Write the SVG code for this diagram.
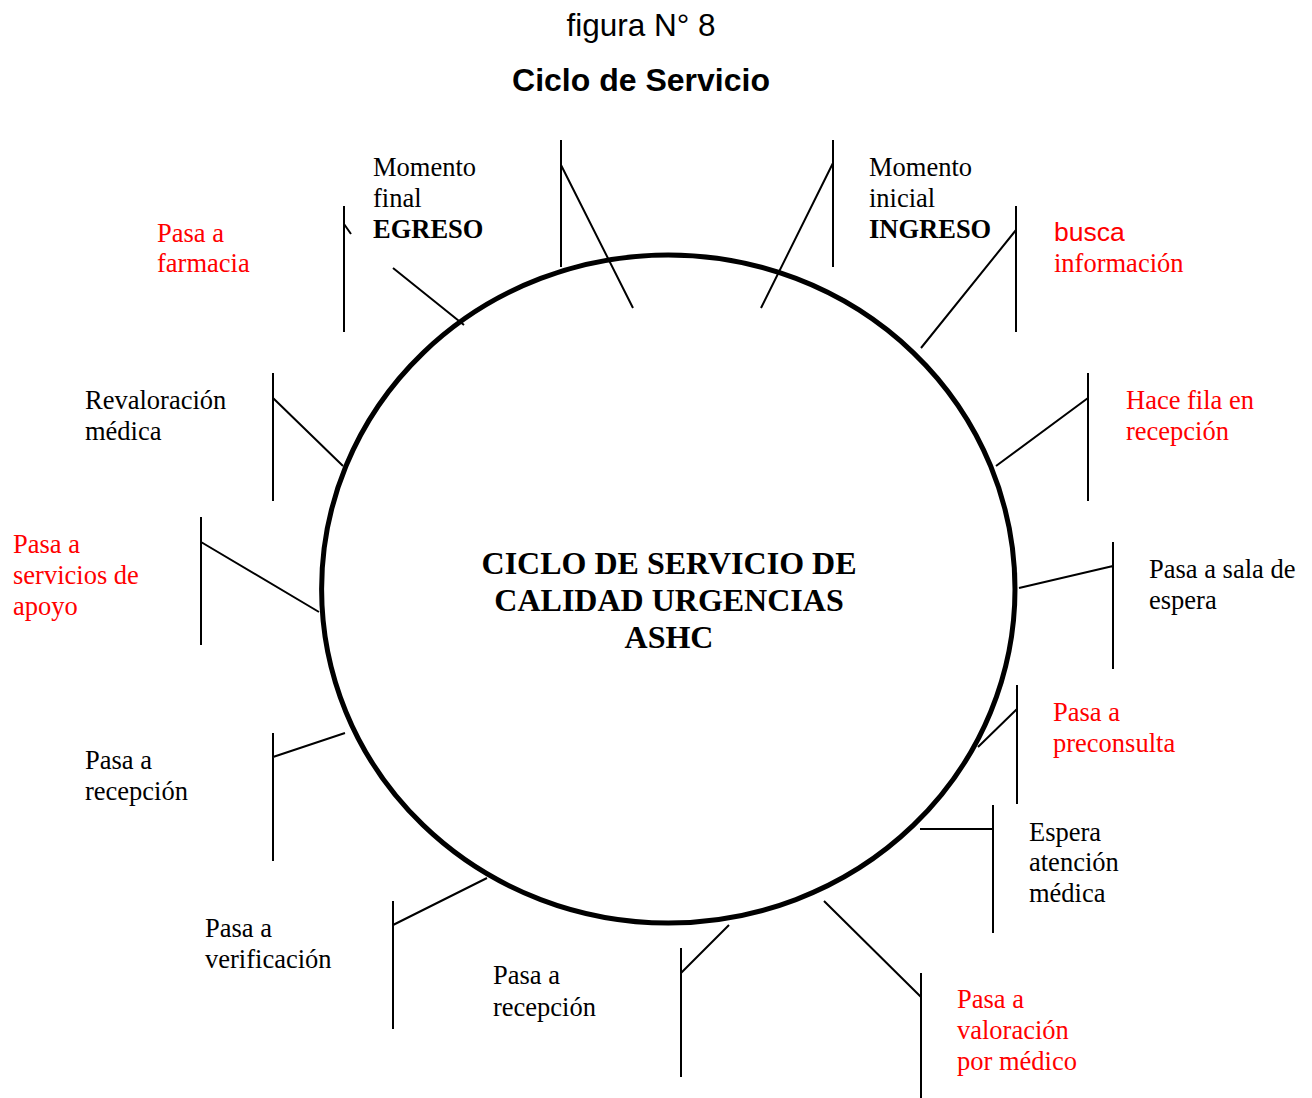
<svg xmlns="http://www.w3.org/2000/svg" width="1312" height="1098" viewBox="0 0 1312 1098">
<style>
.t{font-family:"Liberation Serif","Times New Roman",serif;font-size:26.5px;fill:#000}
.r{fill:#ff0000}
.s{font-family:"Liberation Sans",Arial,sans-serif}
.b{font-weight:bold}
.ln{stroke:#000;stroke-width:2;fill:none}
</style>
<rect width="1312" height="1098" fill="#fff"/>
<g id="title">
<text x="641" y="36" text-anchor="middle" font-family="Liberation Sans, Arial, sans-serif" font-size="31.5">figura N° 8</text>
<text x="641" y="91" text-anchor="middle" font-family="Liberation Sans, Arial, sans-serif" font-size="32" font-weight="bold">Ciclo de Servicio</text>
</g>
<g id="cycle">
<ellipse cx="668.3" cy="589" rx="346.7" ry="334" fill="none" stroke="#000" stroke-width="5"/>
<text class="t b" text-anchor="middle" style="font-size:32px"><tspan x="669" y="574">CICLO DE SERVICIO DE</tspan><tspan x="669" y="611">CALIDAD URGENCIAS</tspan><tspan x="669" y="648">ASHC</tspan></text>
</g>
<g id="connectors">
<path class="ln" d="M344 206V332M344 224L351 234M393 268L464 325"/>
<path class="ln" d="M561 140V267M561 165L633 308"/>
<path class="ln" d="M833 140V267M833 163L761 308"/>
<path class="ln" d="M1016 206V332M1016 230L921 348"/>
<path class="ln" d="M273 373V501M273 398L343 466"/>
<path class="ln" d="M1088 373V501M1088 398L996 466"/>
<path class="ln" d="M201 517V645M201 542L319 612"/>
<path class="ln" d="M1113 542V669M1113 566L1019 588"/>
<path class="ln" d="M1017 685V804M1017 709L978 747"/>
<path class="ln" d="M273 733V861M273 757L345 733"/>
<path class="ln" d="M993 805V933M993 829H920"/>
<path class="ln" d="M393 901V1029M393 925L487 878"/>
<path class="ln" d="M681 948V1077M681 973L729 925"/>
<path class="ln" d="M921 973V1098M921 997L824 901"/>
</g>
<g id="n-egreso"><text class="t"><tspan x="373" y="176">Momento</tspan><tspan x="373" y="207">final</tspan><tspan x="373" y="238" class="b">EGRESO</tspan></text></g>
<g id="n-ingreso"><text class="t"><tspan x="869" y="176">Momento</tspan><tspan x="869" y="207">inicial</tspan><tspan x="869" y="238" class="b">INGRESO</tspan></text></g>
<g id="n-farmacia"><text class="t r"><tspan x="157" y="242">Pasa a</tspan><tspan x="157" y="272">farmacia</tspan></text></g>
<g id="n-busca"><text class="t r"><tspan x="1054" y="241" class="s">busca</tspan><tspan x="1054" y="272">información</tspan></text></g>
<g id="n-revaloracion"><text class="t"><tspan x="85" y="409">Revaloración</tspan><tspan x="85" y="440">médica</tspan></text></g>
<g id="n-fila"><text class="t r"><tspan x="1126" y="409">Hace fila en</tspan><tspan x="1126" y="440">recepción</tspan></text></g>
<g id="n-apoyo"><text class="t r"><tspan x="13" y="553">Pasa a</tspan><tspan x="13" y="584">servicios de</tspan><tspan x="13" y="615">apoyo</tspan></text></g>
<g id="n-sala"><text class="t"><tspan x="1149" y="578">Pasa a sala de</tspan><tspan x="1149" y="609">espera</tspan></text></g>
<g id="n-preconsulta"><text class="t r"><tspan x="1053" y="721">Pasa a</tspan><tspan x="1053" y="752">preconsulta</tspan></text></g>
<g id="n-recepcion1"><text class="t"><tspan x="85" y="769">Pasa a</tspan><tspan x="85" y="800">recepción</tspan></text></g>
<g id="n-espera"><text class="t"><tspan x="1029" y="841">Espera</tspan><tspan x="1029" y="871">atención</tspan><tspan x="1029" y="902">médica</tspan></text></g>
<g id="n-verificacion"><text class="t"><tspan x="205" y="937">Pasa a</tspan><tspan x="205" y="968">verificación</tspan></text></g>
<g id="n-recepcion2"><text class="t"><tspan x="493" y="984">Pasa a</tspan><tspan x="493" y="1016">recepción</tspan></text></g>
<g id="n-valoracion"><text class="t r"><tspan x="957" y="1008">Pasa a</tspan><tspan x="957" y="1039">valoración</tspan><tspan x="957" y="1070">por médico</tspan></text></g>
</svg>
